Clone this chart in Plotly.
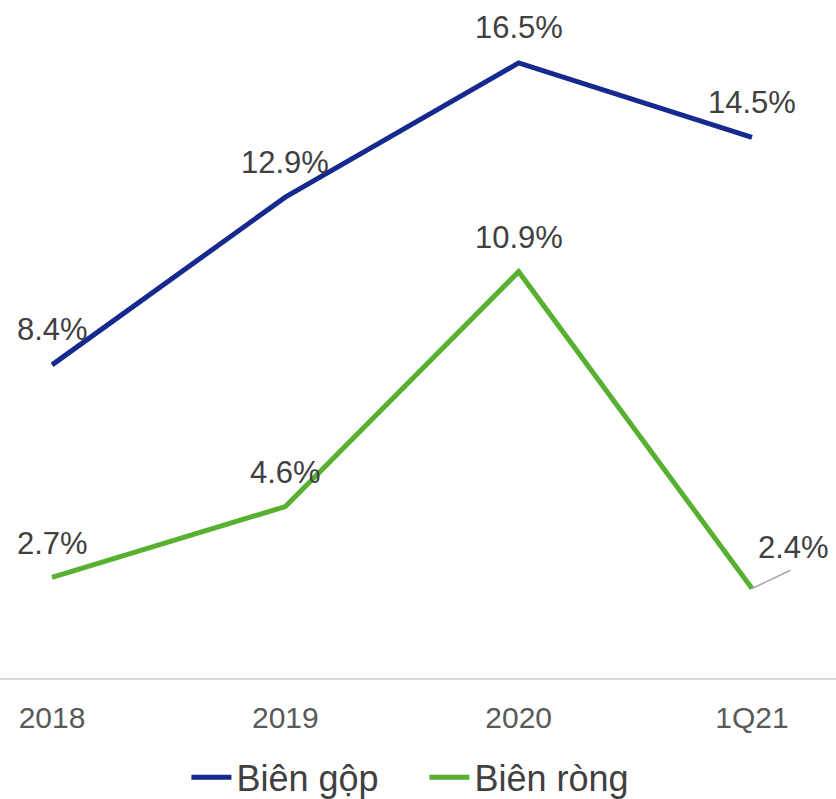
import plotly.graph_objects as go

# Margin data (%)
periods = ["2018", "2019", "2020", "1Q21"]
gross_margin = [8.4, 12.9, 16.5, 14.5]
net_margin = [2.7, 4.6, 10.9, 2.4]

BLUE = "#15298F"
GREEN = "#58B030"
LABEL_COLOR = "#404040"
FONT = "Liberation Sans, Arial, sans-serif"

x_idx = list(range(len(periods)))

fig = go.Figure()
fig.add_trace(go.Scatter(x=x_idx, y=gross_margin, mode="lines", name="Biên gộp",
                         line=dict(color=BLUE, width=5)))
fig.add_trace(go.Scatter(x=x_idx, y=net_margin, mode="lines", name="Biên ròng",
                         line=dict(color=GREEN, width=5)))

annotations = []
for i, v in enumerate(gross_margin):
    annotations.append(dict(x=i, y=v, text=f"{v:.1f}%", showarrow=False,
                            yshift=35, font=dict(size=31, color=LABEL_COLOR, family=FONT)))
for i, v in enumerate(net_margin):
    if i == len(net_margin) - 1:
        # last point: label pushed right with a leader line
        annotations.append(dict(x=i, y=v, text="", showarrow=True, arrowhead=0,
                                arrowwidth=1.5, arrowcolor="#A6A6A6", ax=40, ay=-19,
                                standoff=0, startstandoff=0))
        annotations.append(dict(x=i, y=v, text=f"{v:.1f}%", showarrow=False,
                                xshift=41, yshift=41,
                                font=dict(size=31, color=LABEL_COLOR, family=FONT)))
    else:
        annotations.append(dict(x=i, y=v, text=f"{v:.1f}%", showarrow=False,
                                yshift=34, font=dict(size=31, color=LABEL_COLOR, family=FONT)))

fig.update_layout(
    width=836, height=799,
    margin=dict(l=0, r=0, t=7, b=121),
    paper_bgcolor="white", plot_bgcolor="white",
    font=dict(family=FONT),
    showlegend=True,
    legend=dict(orientation="h", x=0.223, xanchor="left",
                yref="container", y=0.027, yanchor="middle",
                font=dict(size=36, color=LABEL_COLOR, family=FONT),
                entrywidth=183, entrywidthmode="pixels",
                itemwidth=40, tracegroupgap=0),
    annotations=annotations,
    xaxis=dict(range=[-0.223, 3.36], tickvals=x_idx, ticktext=periods,
               showgrid=False, zeroline=False, showline=True,
               linecolor="#D9D9D9", linewidth=2,
               ticks="", ticklabelstandoff=12,
               tickfont=dict(size=30, color="#595959", family=FONT)),
    yaxis=dict(range=[0, 18], visible=False, showgrid=False, zeroline=False),
)

fig.write_html("out.html")
